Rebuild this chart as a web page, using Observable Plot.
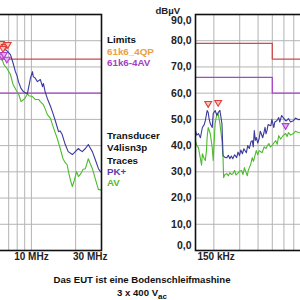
<!DOCTYPE html>
<html><head><meta charset="utf-8">
<script src="https://cdn.jsdelivr.net/npm/d3@7"></script>
<script src="https://cdn.jsdelivr.net/npm/@observablehq/plot@0.6"></script>
<style>
html,body{margin:0;padding:0;background:#fff;}
#wrap{position:relative;width:300px;height:300px;overflow:hidden;font-family:"Liberation Sans",Arial,sans-serif;}
#left,#right{position:absolute;top:0;}
#left{left:-240px;}
#right{left:130px;}
.lg{position:absolute;left:107px;font-weight:bold;font-size:9.8px;line-height:10px;white-space:nowrap;color:#111;}
.ft{position:absolute;left:0;width:284px;text-align:center;font-weight:bold;font-size:9.6px;line-height:11px;color:#111;}
</style></head>
<body><div id="wrap">
<div id="left"></div><div id="right"></div>
<div class="lg" style="top:35px">Limits</div>
<div class="lg" style="top:47px;color:#e9a043">61k6_4QP</div>
<div class="lg" style="top:58px;color:#a43ec4">61k6-4AV</div>
<div class="lg" style="top:131px">Transducer</div>
<div class="lg" style="top:143px">V4lisn3p</div>
<div class="lg" style="top:156px">Traces</div>
<div class="lg" style="top:167px;color:#5a3cae">PK+</div>
<div class="lg" style="top:178px;color:#58b82c">AV</div>
<div class="ft" style="top:274px">Das EUT ist eine Bodenschleifmashine</div>
<div class="ft" style="top:287px">3 x 400 V<sub style="font-size:8px;vertical-align:-3px">ac</sub></div>
</div>
<script>
// frequencies in MHz, levels in dBµV
const yTicks = [0,10,20,30,40,50,60,70,80,90];
const gridMHz = [0.2,0.3,0.4,0.5,0.6,0.7,0.8,0.9,1,2,3,4,5,6,7,8,9,10,20];
const limitQP = [[0.15,79],[0.5,79],[0.5,73],[30,73]];
const limitAV = [[0.15,66],[0.5,66],[0.5,60],[30,60]];

const pkLeft = [[5.6,77.5],[5.9,78.4],[6.15,78.2],[6.3,77.6],[6.55,77.0],[6.8,76.2],[7.2,74.7],[7.5,71.5],[7.78,68.2],[8.0,66.5],[8.16,64.4],[8.5,61.8],[8.82,60.6],[9.1,60.2],[9.39,59.8],[9.6,62.5],[9.84,65.6],[10.16,68.2],[10.3,66.3],[10.6,65.8],[10.99,64.4],[11.5,65.2],[11.9,62.5],[12.07,63.7],[12.4,60.5],[12.85,57.9],[13.5,54.9],[14.0,52.4],[14.6,49.2],[15.3,45.3],[15.7,45.6],[16.2,44.2],[17.0,40.4],[17.8,37.7],[19.0,36.6],[19.9,37.7],[20.9,38.9],[21.5,38.2],[22.2,37.7],[23.3,38.9],[24.4,40.4],[25.2,39.0],[26.0,37.7],[27.2,34.7],[28.6,31.2],[29.5,30.1],[30,29.8]];
const avLeft = [[5.6,74.5],[5.9,75.5],[6.15,74.7],[6.5,70.9],[6.8,69.5],[7.2,67.1],[7.5,63.3],[7.9,61.0],[8.2,59.5],[8.5,56.8],[8.8,57.5],[9.0,57.9],[9.4,59.8],[9.6,59.0],[10.16,58.7],[10.6,57.6],[11.2,57.6],[11.5,56.8],[12.07,55.6],[12.4,54.0],[12.85,51.8],[13.5,50.3],[13.9,48.0],[14.2,46.5],[15.0,42.7],[15.7,38.9],[16.4,35.0],[17.0,33.5],[17.5,32.7],[18.0,29.3],[18.5,26.5],[19.0,24.4],[19.6,26.8],[20.3,30.1],[20.9,28.2],[21.5,29.0],[22.5,31.0],[23.3,31.2],[24.4,35.0],[25.2,33.0],[26.0,31.2],[27.2,27.4],[28.6,23.2],[29.5,23.2],[30,22.8]];
const pkMarksLeft = [[6.2,78.6],[6.6,77.4],[6.9,78.2],[6.4,76.7]];
const avMarksLeft = [[6.3,73.8],[6.8,72.6],[6.5,74.4]];

const pkRight = [[0.150,45.7],[0.153,44],[0.157,44.6],[0.162,43],[0.167,46.9],[0.172,48],[0.175,49.5],[0.180,53.4],[0.183,52.6],[0.186,50],[0.189,48.4],[0.195,46.9],[0.198,52.2],[0.204,53.4],[0.210,51.5],[0.214,52.6],[0.220,53.4],[0.227,48.4],[0.231,36.2],[0.238,35.5],[0.245,35.4],[0.251,36.3],[0.257,35.0],[0.263,36],[0.269,35.0],[0.277,36.5],[0.286,35.4],[0.292,37.5],[0.299,36.2],[0.305,38.3],[0.313,36.9],[0.320,38.8],[0.333,37.3],[0.340,40],[0.349,38.9],[0.358,41.5],[0.365,41.9],[0.371,39.5],[0.377,45.7],[0.383,42],[0.389,43.1],[0.398,41],[0.407,42.7],[0.414,45.5],[0.420,44.6],[0.430,43],[0.439,45.0],[0.446,47],[0.453,44.5],[0.460,45.7],[0.468,48],[0.489,47.6],[0.497,50],[0.512,46.9],[0.520,49],[0.537,49.5],[0.553,50.7],[0.562,49],[0.579,51.5],[0.597,50.5],[0.616,49.5],[0.625,49.5],[0.645,50.3],[0.665,49],[0.696,49.5],[0.720,50.5],[0.752,49.9],[0.8,50.2]];
const avRight = [[0.150,41.9],[0.153,40],[0.157,39.2],[0.162,35],[0.165,32.5],[0.167,36.9],[0.172,35],[0.175,34.3],[0.178,38],[0.180,43.1],[0.183,46.9],[0.189,44.6],[0.195,39.2],[0.198,34.3],[0.204,48.4],[0.208,51],[0.210,52.2],[0.214,52.2],[0.220,48.4],[0.227,41.9],[0.231,35.4],[0.233,27.8],[0.238,29.0],[0.245,29.3],[0.251,28.5],[0.257,29.7],[0.263,29.0],[0.269,29.3],[0.277,30.5],[0.283,28.8],[0.290,29.3],[0.299,30.2],[0.309,30.5],[0.316,29.0],[0.323,31.6],[0.330,30],[0.338,28.5],[0.343,30.5],[0.349,31.6],[0.357,33],[0.365,35.4],[0.372,34],[0.389,38.1],[0.398,36.5],[0.407,38.1],[0.426,37.3],[0.440,39.5],[0.453,38.9],[0.464,40],[0.474,40.8],[0.485,39.5],[0.497,40.0],[0.512,41],[0.528,41.9],[0.540,40.5],[0.553,43.8],[0.570,42.5],[0.579,43.1],[0.597,44],[0.616,44.6],[0.630,43.5],[0.645,45.0],[0.665,44],[0.696,44.6],[0.72,45.5],[0.752,45.0],[0.8,44.8]];
const pkMarksRight = [[0.183,55.7],[0.214,56.1]];
const avMarksRight = [[0.616,47.3]];

const xLabelsLeft = [{f:10, t:"10 MHz", anchor:"middle"},{f:30, t:"30 MHz", anchor:"end"}];
const xLabelsRight = [{f:0.15, t:"150 kHz", anchor:"start"}];

const FONT = "Liberation Sans, Arial, sans-serif";
const triDown = {draw(ctx, size){ const a = Math.sqrt(size/Math.PI); ctx.moveTo(-a,-a*0.85); ctx.lineTo(a,-a*0.85); ctx.lineTo(0,a*0.85); ctx.closePath(); }};
const X = d => d[0], Y = d => d[1];

function chart(o) {
  const nudge = {middle:0, end:6, start:2};
  const marks = [
    Plot.ruleY(yTicks, {stroke:"#b4b4b4", strokeWidth:1}),
    Plot.ruleX(gridMHz, {stroke:"#b4b4b4", strokeWidth:1}),
    Plot.line(limitQP, {x:X, y:Y, stroke:"#cf4a4a", strokeWidth:1.3}),
    Plot.line(limitAV, {x:X, y:Y, stroke:"#a846c8", strokeWidth:1.3}),
    Plot.line(o.av, {x:X, y:Y, stroke:"#4cbb2c", strokeWidth:1.1}),
    Plot.line(o.pk, {x:X, y:Y, stroke:"#3a3a9c", strokeWidth:1.1}),
    Plot.dot(o.avMarks, {x:X, y:Y, symbol:triDown, r:3.4, stroke:"#b040d0", fill:"#e8b0f4", strokeWidth:1.1}),
    Plot.dot(o.pkMarks, {x:X, y:Y, symbol:triDown, r:3.4, stroke:"#e03c3c", fill:"#f8c8b4", strokeWidth:1.1}),
    Plot.frame({stroke:"#111", strokeWidth:1.6}),
    ...o.xLabels.map(l => Plot.text([l], {x:"f", text:"t", textAnchor:l.anchor, dx:nudge[l.anchor], frameAnchor:"bottom", dy:9, fontWeight:"bold", fontSize:10, fill:"#222"}))
  ];
  if (o.yAxis) {
    const fmt = d => d.toFixed(1).replace(".", ",");
    const ys = {fontWeight:"bold", fontSize:10.5, fill:"#222", frameAnchor:"left", textAnchor:"end", dx:-4};
    marks.push(
      Plot.text(yTicks.filter(d => d > 0 && d < 90), {y:d=>d, text:fmt, ...ys}),
      Plot.text([90], {y:d=>d, text:fmt, dy:6, ...ys}),
      Plot.text([0], {y:d=>d, text:fmt, dy:-5, ...ys}),
      Plot.text(["dBµV"], {text:d=>d, frameAnchor:"top-left", dx:-40, dy:-7, fontWeight:"bold", fontSize:9.6, fill:"#222"})
    );
  }
  return Plot.plot({
    width:o.width, height:265, marginLeft:o.ml, marginRight:o.mr, marginTop:14, marginBottom:15,
    x:{type:"log", domain:[0.15,30], axis:null},
    y:{domain:[0,90], axis:null},
    style:`max-width:none;background:transparent;overflow:visible;font-family:${FONT};`,
    marks
  });
}

const left = chart({width:351, ml:3, mr:10, pk:pkLeft, av:avLeft, pkMarks:pkMarksLeft, avMarks:avMarksLeft, xLabels:xLabelsLeft, yAxis:false});
const right = chart({width:413, ml:65, mr:10, pk:pkRight, av:avRight, pkMarks:pkMarksRight, avMarks:avMarksRight, xLabels:xLabelsRight, yAxis:true});
document.getElementById("left").appendChild(left);
document.getElementById("right").appendChild(right);
</script>
</body></html>
